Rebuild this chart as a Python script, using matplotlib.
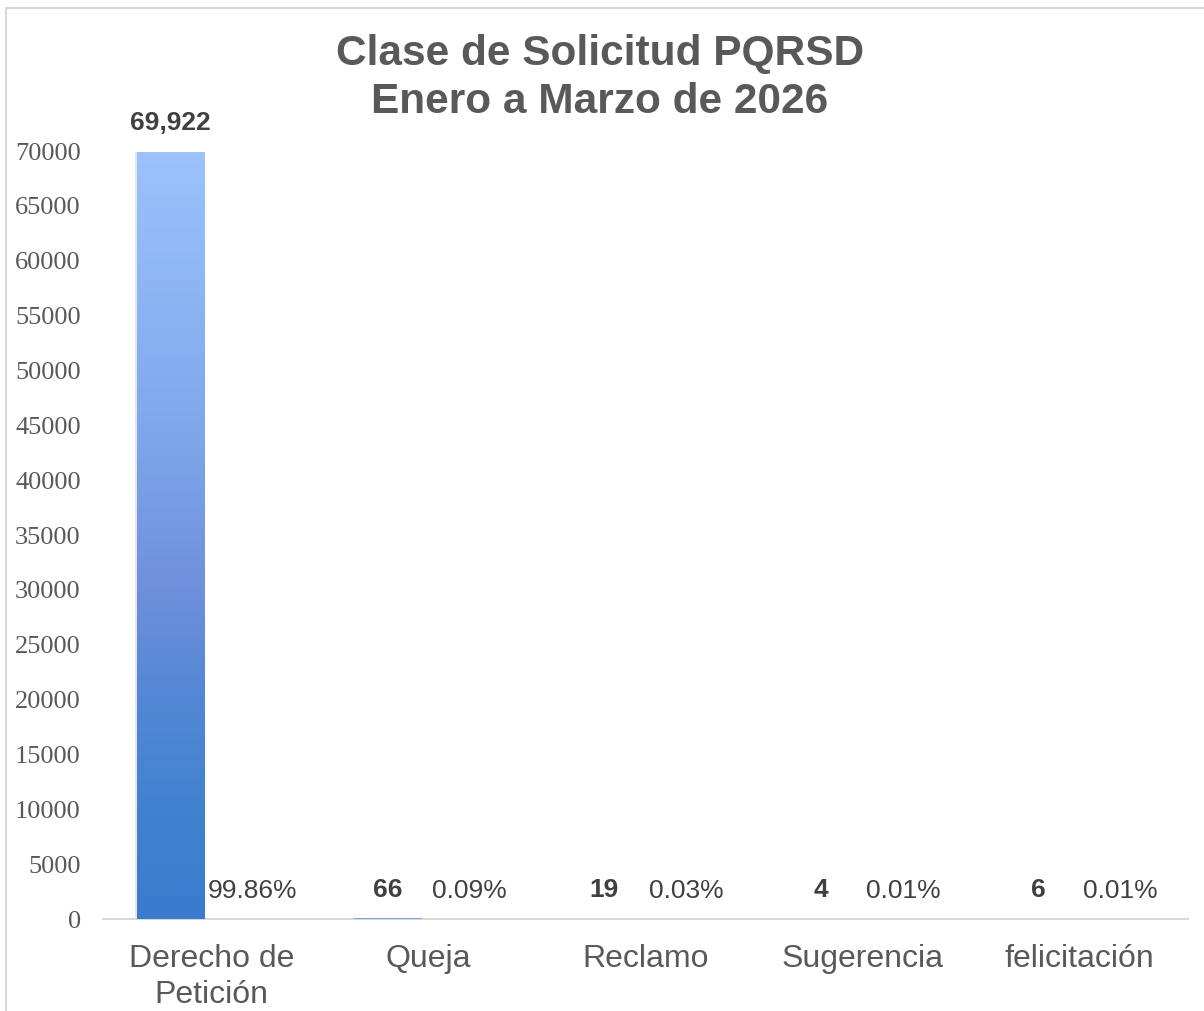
import matplotlib
matplotlib.use("Agg")
import matplotlib.pyplot as plt
import numpy as np
from matplotlib.colors import LinearSegmentedColormap
from matplotlib.patches import Rectangle

categories = ["Derecho de\nPetición", "Queja", "Reclamo", "Sugerencia", "felicitación"]
counts = [69922, 66, 19, 4, 6]
count_labels = ["69,922", "66", "19", "4", "6"]
percents = [0.9986, 0.0009, 0.0003, 0.0001, 0.0001]
percent_labels = ["99.86%", "0.09%", "0.03%", "0.01%", "0.01%"]
yticks = list(range(0, 70001, 5000))

title = "Clase de Solicitud PQRSD\nEnero a Marzo de 2026"

W, H = 1204, 1011
fig = plt.figure(figsize=(W / 100, H / 100), dpi=100)
fig.patch.set_facecolor("white")

# light frame
fig.add_artist(Rectangle((6 / W, -0.01), 1.2, (H - 8) / H + 0.01, transform=fig.transFigure,
                         fill=False, edgecolor="#D9D9D9", linewidth=1.5))

ax = fig.add_axes([103 / W, (H - 919) / H, (1188 - 103) / W, (919 - 151) / H])
x = np.arange(len(categories))
bw = 0.31
off = 0.19

bars = ax.bar(x - off, counts, width=bw, color="#6C93DD", edgecolor="none", zorder=2)
pbars = ax.bar(x + off, percents, width=bw, color="#4472C4", edgecolor="none", zorder=2)

cmap = LinearSegmentedColormap.from_list(
    "grad", [(0.0, "#3A7BCE"), (0.15, "#4283CF"), (0.3, "#5588D6"), (0.43, "#6F90DC"),
             (0.65, "#7FA9EE"), (1.0, "#9BC2FB")])
grad = np.linspace(0, 1, 256).reshape(-1, 1)
for b in bars:
    bx, by = b.get_x(), b.get_y()
    w, h = b.get_width(), b.get_height()
    if h <= 0:
        continue
    # soft shadow at the sides
    ax.add_patch(Rectangle((bx - 0.006, by), w + 0.012, h, facecolor="#E6E6E6",
                           edgecolor="none", zorder=1))
    im = ax.imshow(grad, cmap=cmap, origin="lower", aspect="auto",
                   extent=[bx, bx + w, by, by + h], zorder=3)
    im.set_clip_path(b)

ax.set_xlim(-0.5, len(categories) - 0.5)
ax.set_ylim(0, 70000)

for i, (c, lab) in enumerate(zip(counts, count_labels)):
    ax.annotate(lab, (x[i] - off, c), xytext=(0, 20.5), textcoords="offset points",
                ha="center", va="center", fontsize=19, fontweight="bold",
                color="#404040", family="Liberation Sans", annotation_clip=False)
for i, (p, lab) in enumerate(zip(percents, percent_labels)):
    ax.annotate(lab, (x[i] + off, p), xytext=(0, 20.5), textcoords="offset points",
                ha="center", va="center", fontsize=19,
                color="#404040", family="Liberation Sans", annotation_clip=False)

ax.set_xticks(x)
ax.set_xticklabels(categories, fontsize=23, color="#595959", family="Liberation Sans",
                   linespacing=1.25)
ax.set_yticks(yticks)
ax.set_yticklabels([str(v) for v in yticks], fontsize=19, color="#595959", family="Liberation Serif")
ax.tick_params(axis="both", length=0)
ax.tick_params(axis="x", pad=18)
ax.tick_params(axis="y", pad=16)

for s in ["top", "right", "left"]:
    ax.spines[s].set_visible(False)
ax.spines["bottom"].set_color("#D9D9D9")
ax.spines["bottom"].set_linewidth(1.5)
ax.set_facecolor("none")

fig.text(600 / W, 1 - 78 / H, title, ha="center", va="center", fontsize=30.5, fontweight="bold",
         color="#595959", family="Liberation Sans", linespacing=1.25)

fig.savefig("out.png", dpi=100, facecolor="white")
